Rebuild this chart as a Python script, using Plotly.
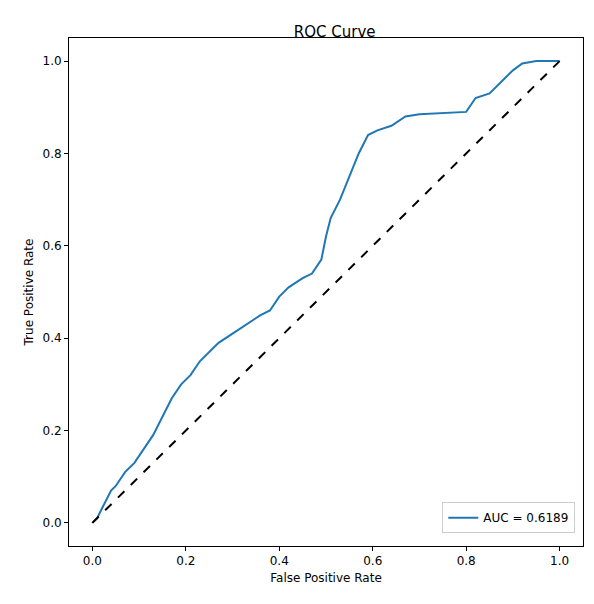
import plotly.graph_objects as go

fpr = [0.0, 0.005, 0.01, 0.02, 0.03, 0.04, 0.05, 0.07, 0.09, 0.11, 0.13, 0.15, 0.17,
       0.19, 0.21, 0.23, 0.25, 0.27, 0.30, 0.33, 0.36, 0.38, 0.40, 0.42, 0.45,
       0.47, 0.49, 0.50, 0.51, 0.53, 0.55, 0.57, 0.59, 0.61, 0.64, 0.67, 0.70,
       0.75, 0.80, 0.82, 0.85, 0.88, 0.90, 0.92, 0.95, 1.0]
tpr = [0.0, 0.005, 0.01, 0.03, 0.05, 0.07, 0.08, 0.11, 0.13, 0.16, 0.19, 0.23, 0.27,
       0.30, 0.32, 0.35, 0.37, 0.39, 0.41, 0.43, 0.45, 0.46, 0.49, 0.51, 0.53,
       0.54, 0.57, 0.62, 0.66, 0.70, 0.75, 0.80, 0.84, 0.85, 0.86, 0.88, 0.885,
       0.887, 0.89, 0.92, 0.93, 0.96, 0.98, 0.995, 1.0, 1.0]
auc_label = "AUC = 0.6189"
ticks = [0.0, 0.2, 0.4, 0.6, 0.8, 1.0]

fig = go.Figure()
fig.add_trace(go.Scatter(x=fpr, y=tpr, mode="lines", name=auc_label,
                         line=dict(color="#1f77b4", width=2)))
fig.add_trace(go.Scatter(x=[0, 1], y=[0, 1], mode="lines", showlegend=False,
                         line=dict(color="black", width=2, dash="dash")))

axis = dict(range=[-0.05, 1.05], tickvals=ticks, ticktext=[f"{t:.1f}" for t in ticks],
            showgrid=False, zeroline=False, showline=True, linecolor="black",
            mirror=True, ticks="outside", ticklen=4, tickcolor="black")
fig.update_layout(
    width=594, height=604, plot_bgcolor="white", paper_bgcolor="white",
    margin=dict(l=61, r=19, t=30, b=66),
    font=dict(family="DejaVu Sans", size=12, color="black"),
    title=dict(text="ROC Curve", x=0.55, xanchor="center", y=0.97, font=dict(size=15)),
    xaxis=dict(axis, title=dict(text="False Positive Rate", standoff=6, font=dict(size=12))),
    yaxis=dict(axis, title=dict(text="True Positive Rate", standoff=6, font=dict(size=12))),
    legend=dict(x=0.985, y=0.025, xanchor="right", yanchor="bottom",
                bordercolor="#cccccc", borderwidth=1, bgcolor="white"),
)
fig.write_html("out.html")
